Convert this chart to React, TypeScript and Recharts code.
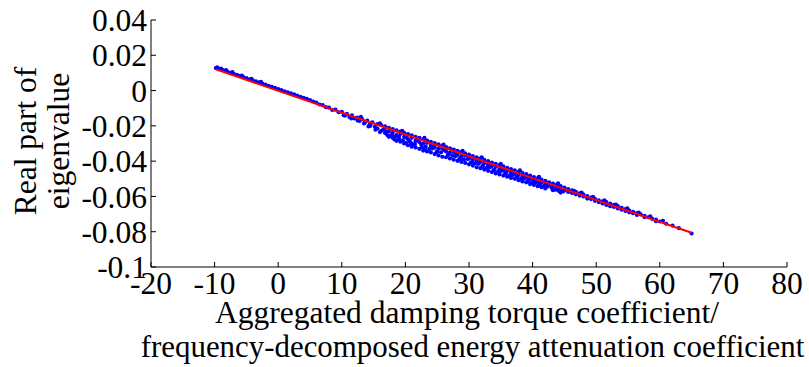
import React from "react";
import { ScatterChart, Scatter, XAxis, YAxis } from "recharts";

// scatter points, [x, y]
const headPoints: [number, number][] = [
  [-9.8, 0.0128], [-9.6, 0.0131], [-9.5, 0.0126], [-9.2, 0.0121], [-9.0, 0.0124], [-8.8, 0.0118], [-8.4, 0.0112],
  [-8.2, 0.0116], [-8.0, 0.0108], [-7.5, 0.0101], [-7.2, 0.0104], [-7.0, 0.0095], [-6.5, 0.0089], [-6.0, 0.0083],
  [-5.7, 0.0085], [-5.5, 0.0076], [-5.0, 0.0071], [-4.5, 0.0064], [-4.2, 0.0067], [-4.0, 0.0058], [-3.5, 0.0052],
  [-3.0, 0.0046], [-2.7, 0.0049], [-2.5, 0.0039], [-2.0, 0.0034], [-1.5, 0.0027], [-1.0, 0.0021],
  [-0.5, 0.0015], [0, 0.0009], [0.5, 0.0003], [1.0, -0.0004], [1.5, -0.001],
  [2.0, -0.0016], [2.5, -0.0022], [3.0, -0.0028], [3.5, -0.0035], [4.0, -0.0041],
  [4.5, -0.0047], [5.0, -0.0054],
];

const earlyPoints: [number, number][] = [
  [5.5, -0.0062], [6.0, -0.0068], [6.5, -0.0079], [7.0, -0.0082], [7.5, -0.0094],
  [8.0, -0.0097], [8.5, -0.011], [9.0, -0.0108], [9.5, -0.0123], [10.0, -0.012],
  [10.3, -0.014], [10.8, -0.0132], [11.2, -0.015], [11.6, -0.0141], [12.0, -0.0158],
  [12.4, -0.0153], [12.8, -0.0172], [13.2, -0.0162], [13.6, -0.0183], [14.0, -0.017],
  [14.4, -0.0192], [14.8, -0.018], [15.2, -0.0205], [13.0, -0.0149], [14.2, -0.0203],
];

const upperBand: [number, number][] = [
  [15.6, -0.019], [16.2, -0.0196], [16.8, -0.0203], [17.4, -0.0211], [18.0, -0.0218],
  [18.6, -0.0226], [19.2, -0.0232], [19.8, -0.024], [20.4, -0.0247], [21.0, -0.0254],
  [21.6, -0.0262], [22.2, -0.0268], [22.8, -0.0276], [23.4, -0.0283], [24.0, -0.029],
  [24.6, -0.0298], [25.2, -0.0305], [25.8, -0.0312], [26.4, -0.032], [27.0, -0.0327],
  [27.6, -0.0334], [28.2, -0.0342], [28.8, -0.0348], [29.4, -0.0356], [30.0, -0.0363],
  [30.6, -0.0371], [31.2, -0.0378], [31.8, -0.0385], [32.4, -0.0393], [33.0, -0.04],
  [33.6, -0.0408], [34.2, -0.0415], [34.8, -0.0422], [35.4, -0.043], [36.0, -0.0438],
  [36.6, -0.0445], [37.2, -0.0452], [37.8, -0.046], [38.4, -0.0467], [39.0, -0.0474],
  [39.6, -0.0482], [40.2, -0.049], [40.8, -0.0497], [41.4, -0.0505], [42.0, -0.0512],
  [42.6, -0.052], [43.2, -0.0527], [43.8, -0.0535], [44.4, -0.0542], [45.0, -0.055],
  [16.0, -0.0186], [19.5, -0.0229], [23.0, -0.0268], [26.0, -0.0306], [29.0, -0.0342],
  [32.0, -0.0378], [35.0, -0.0415], [38.0, -0.0452], [41.0, -0.0489], [44.0, -0.0526],
];

const middleBand: [number, number][] = [
  [15.6, -0.0215], [16.2, -0.0228], [16.8, -0.0212], [17.4, -0.0232], [18.0, -0.024],
  [18.6, -0.0252], [19.2, -0.0246], [19.8, -0.0262], [20.4, -0.0275], [21.0, -0.0268],
  [21.6, -0.0285], [22.2, -0.0292], [22.8, -0.03], [23.4, -0.0296], [24.0, -0.0312],
  [24.6, -0.0322], [25.2, -0.033], [25.8, -0.0328], [26.4, -0.0345], [27.0, -0.0352],
  [27.6, -0.0348], [28.2, -0.0365], [28.8, -0.0372], [29.4, -0.0368], [30.0, -0.0385],
  [30.6, -0.0392], [31.2, -0.0398], [31.8, -0.0405], [32.4, -0.0412], [33.0, -0.042],
  [33.6, -0.0428], [34.2, -0.0432], [34.8, -0.0445], [35.4, -0.045], [36.0, -0.0455],
  [36.6, -0.0465], [37.2, -0.047], [37.8, -0.0478], [38.4, -0.0488], [39.0, -0.049],
  [39.6, -0.05], [40.2, -0.0508], [40.8, -0.0515], [41.4, -0.052], [42.0, -0.053],
  [42.6, -0.0538], [43.2, -0.0545], [43.8, -0.0552], [44.4, -0.056], [45.0, -0.0566],
  [16.5, -0.0222], [17.9, -0.0252], [19.0, -0.0262], [20.7, -0.0288], [22.5, -0.0305],
  [24.3, -0.0328], [26.1, -0.0338], [27.9, -0.0372], [29.8, -0.0388], [31.5, -0.0415],
  [33.3, -0.0435], [35.1, -0.0456], [36.9, -0.0478], [38.7, -0.0498], [40.5, -0.0522],
  [42.3, -0.0545], [44.1, -0.0568],
];

const fillBand: [number, number][] = [
  [10.5, -0.0142], [11.5, -0.0158], [12.5, -0.017], [13.5, -0.0186], [14.5, -0.02],
  [15.3, -0.0222], [16.0, -0.0235], [17.0, -0.0232], [17.7, -0.0255], [18.4, -0.0262],
  [19.0, -0.0275], [19.6, -0.0282], [20.2, -0.0268], [20.9, -0.0298], [21.5, -0.0303],
  [22.0, -0.0285], [22.6, -0.032], [23.2, -0.0318], [23.8, -0.033], [24.4, -0.0312],
  [25.0, -0.0345], [25.6, -0.035], [26.2, -0.0332], [26.8, -0.0362], [27.4, -0.037],
  [28.0, -0.0355], [28.6, -0.0385], [29.2, -0.039], [29.9, -0.0375], [30.5, -0.0405],
  [31.0, -0.0412], [31.6, -0.0395], [32.2, -0.0428], [32.8, -0.0437], [33.4, -0.0418],
  [34.0, -0.045], [34.6, -0.0458], [35.2, -0.044], [35.8, -0.047], [36.4, -0.048],
  [37.0, -0.0462], [37.6, -0.0492], [38.2, -0.05], [38.8, -0.0483], [39.4, -0.0512],
  [40.0, -0.052], [40.6, -0.0503], [41.2, -0.053], [41.8, -0.054], [42.4, -0.0525],
  [43.0, -0.0552], [43.6, -0.0562], [44.2, -0.0548], [44.8, -0.0572],
];

const lowerBand: [number, number][] = [
  [16.8, -0.024], [17.4, -0.0262], [18.0, -0.0268], [18.6, -0.0285], [19.2, -0.029],
  [19.8, -0.03], [20.4, -0.031], [21.0, -0.0318], [21.6, -0.0322], [22.2, -0.033],
  [22.8, -0.034], [23.4, -0.0345], [24.0, -0.035], [24.6, -0.036], [25.2, -0.0368],
  [25.8, -0.0375], [26.4, -0.0378], [27.0, -0.0385], [27.6, -0.0392], [28.2, -0.0398],
  [28.8, -0.0405], [29.4, -0.041], [30.0, -0.0418], [30.6, -0.0425], [31.2, -0.0435],
  [31.8, -0.044], [32.4, -0.0448], [33.0, -0.0455], [33.6, -0.0462], [34.2, -0.047],
  [34.8, -0.0475], [35.4, -0.0482], [36.0, -0.0488], [36.6, -0.0495], [37.2, -0.05],
  [37.8, -0.0508], [38.4, -0.0515], [39.0, -0.052], [39.6, -0.053], [40.2, -0.0535],
  [40.8, -0.0542], [41.4, -0.0548], [42.0, -0.0555], [43.2, -0.0565], [44.4, -0.0578],
  [17.1, -0.0251], [18.3, -0.0277], [20.1, -0.0296], [21.3, -0.0305], [23.1, -0.0328],
  [24.9, -0.0349], [26.7, -0.0365], [28.5, -0.0388], [30.3, -0.0408], [32.1, -0.0428],
  [33.9, -0.045], [35.7, -0.0468], [37.5, -0.0488], [39.3, -0.0508], [41.1, -0.0532],
];

const tailPoints: [number, number][] = [
  [45.6, -0.0558], [45.6, -0.0575], [46.2, -0.0566], [46.2, -0.058], [46.8, -0.0574],
  [46.8, -0.0588], [47.4, -0.0582], [47.4, -0.0595], [48.0, -0.059], [48.0, -0.06],
  [48.6, -0.0598], [48.6, -0.0612], [49.2, -0.0607], [49.2, -0.0615], [49.8, -0.0614],
  [49.8, -0.0625], [50.4, -0.0622], [50.4, -0.0632], [51.0, -0.0628], [51.0, -0.064],
  [51.6, -0.0632], [51.6, -0.0648], [52.2, -0.064], [52.2, -0.0655], [52.8, -0.0648],
  [52.8, -0.066], [53.4, -0.0655], [53.4, -0.0668], [54.0, -0.0665], [54.0, -0.0675],
  [54.6, -0.0672], [54.6, -0.0682], [55.2, -0.068], [55.2, -0.069], [55.8, -0.0688],
  [55.8, -0.0695], [56.4, -0.0695], [56.4, -0.0705], [57.0, -0.0702], [57.6, -0.071],
  [57.6, -0.0718], [58.2, -0.0718], [58.8, -0.0727], [59.4, -0.0732], [59.4, -0.074],
  [60.0, -0.0742], [61.0, -0.0755], [62.0, -0.0765], [63.0, -0.078], [65.0, -0.081],
  [46.5, -0.0568], [47.7, -0.0578], [49.5, -0.0602], [51.3, -0.0622], [53.1, -0.0647],
  [54.9, -0.0668], [56.7, -0.0692], [58.5, -0.0713], [60.5, -0.0738],
];

// fitted straight line end points
const fitLine: [number, number][] = [
  [-9.8, 0.012],
  [65.0, -0.0806],
];

const xTicks = [-20, -10, 0, 10, 20, 30, 40, 50, 60, 70, 80];
const yTicks = [-0.1, -0.08, -0.06, -0.04, -0.02, 0, 0.02, 0.04];

const toRows = (pts: [number, number][]) => pts.map(([x, y]) => ({ x, y }));

const scatterData = toRows([
  ...headPoints,
  ...earlyPoints,
  ...upperBand,
  ...middleBand,
  ...fillBand,
  ...lowerBand,
  ...tailPoints,
]);
const fitData = toRows(fitLine);

const FONT = "Liberation Serif";
const FS = 31.5;

const Dot = (props: any) => (
  <circle cx={props.cx} cy={props.cy} r={2.1} fill="#0000ff" />
);

const NoDot = () => <g />;

const XTitle = (props: any) => {
  const { x, y, width } = props.viewBox;
  const cx = x + width / 2;
  return (
    <g style={{ fontFamily: FONT }} fill="#000">
      <text x={cx - 2} y={y + 56} fontSize={FS} textAnchor="middle">
        Aggregated damping torque coefficient/
      </text>
      <text x={cx + 3.5} y={y + 90} fontSize={30.9} textAnchor="middle">
        frequency-decomposed energy attenuation coefficient
      </text>
    </g>
  );
};

const YTitle = () => {
  const cy = 141;
  return (
    <g style={{ fontFamily: FONT }} fontSize={FS} fill="#000">
      <text x={36} y={cy} textAnchor="middle" transform={`rotate(-90 36 ${cy})`}>
        Real part of
      </text>
      <text x={69} y={cy} textAnchor="middle" transform={`rotate(-90 69 ${cy})`}>
        eigenvalue
      </text>
    </g>
  );
};

export default function App() {
  const tickStyle = { fontFamily: FONT, fontSize: FS, fill: "#000" };
  return (
    <div style={{ position: "absolute", left: 0, top: 0, fontFamily: FONT }}>
      <ScatterChart
        width={809}
        height={367}
        margin={{ top: 20, right: 22, bottom: 0, left: 0 }}
        style={{ fontFamily: FONT }}
      >
        <XAxis
          type="number"
          dataKey="x"
          domain={[-20, 80]}
          ticks={xTicks}
          interval={0}
          height={100}
          tickSize={-5}
          tickMargin={10}
          tick={tickStyle}
          axisLine={{ stroke: "#000" }}
          tickLine={{ stroke: "#000" }}
          label={{ content: XTitle }}
        />
        <YAxis
          type="number"
          dataKey="y"
          domain={[-0.1, 0.04]}
          ticks={yTicks}
          interval={0}
          width={151}
          tickSize={-5}
          tickMargin={9}
          tick={tickStyle}
          tickFormatter={(v: number) => String(v)}
          axisLine={{ stroke: "#000" }}
          tickLine={{ stroke: "#000" }}
          label={{ content: YTitle }}
        />
        <Scatter
          data={scatterData}
          shape={Dot}
          isAnimationActive={false}
        />
        <Scatter
          data={fitData}
          shape={NoDot}
          line={{ stroke: "#ff0000", strokeWidth: 2 }}
          isAnimationActive={false}
        />
      </ScatterChart>
    </div>
  );
}
